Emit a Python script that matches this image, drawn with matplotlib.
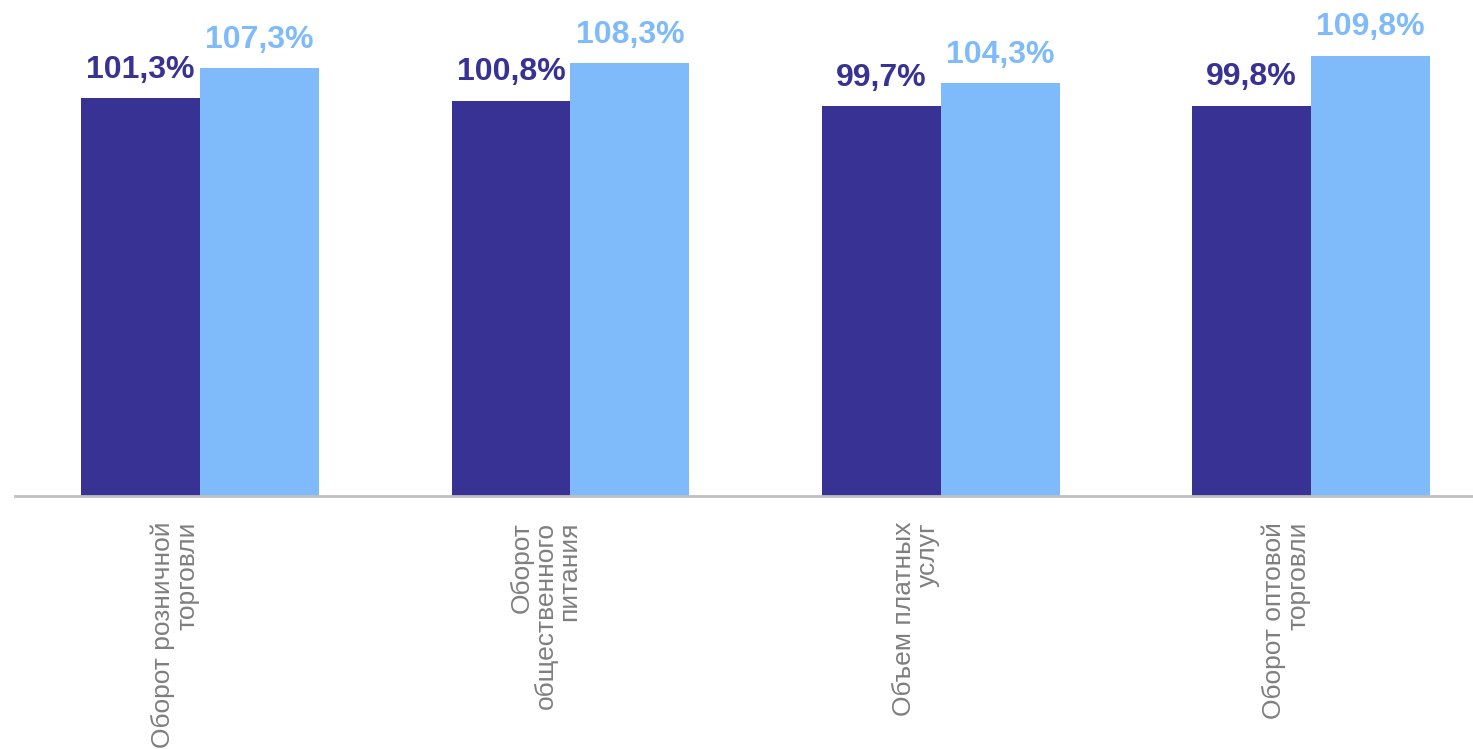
import numpy as np
import matplotlib
matplotlib.use('Agg')
import matplotlib.pyplot as plt

plt.rcParams['font.family'] = ['Liberation Sans', 'DejaVu Sans']

categories = ['Оборот розничной\nторговли',
              'Оборот\nобщественного\nпитания',
              'Объем платных\nуслуг',
              'Оборот оптовой\nторговли']
serie1 = [101.3, 100.8, 99.7, 99.8]
serie2 = [107.3, 108.3, 104.3, 109.8]
rotulos1 = ['101,3%', '100,8%', '99,7%', '99,8%']
rotulos2 = ['107,3%', '108,3%', '104,3%', '109,8%']

corEscura = '#373293'
corClara = '#7fbbfa'

fig = plt.figure(figsize=(14.73, 7.49), dpi=100)
ax = fig.add_axes([15/1473, (749-496)/749, (1473-15)/1473, 496/749])

x = np.arange(len(categories))
larg = 0.321
ax.bar(x - larg/2, serie1, larg, color=corEscura)
ax.bar(x + larg/2, serie2, larg, color=corClara)

for i in range(len(categories)):
    ax.annotate(rotulos1[i], (x[i] - larg/2, serie1[i]), xytext=(0, 14.5),
                textcoords='offset points', ha='center', va='baseline',
                fontsize=23, fontweight='bold', color=corEscura)
    ax.annotate(rotulos2[i], (x[i] + larg/2, serie2[i]), xytext=(0, 14.5),
                textcoords='offset points', ha='center', va='baseline',
                fontsize=23, fontweight='bold', color=corClara)
    # rotulo do eixo, rodado e um pouco deslocado p/ esquerda
    ax.annotate(categories[i], (x[i], 0), xycoords=('data', 'axes fraction'),
                xytext=(-18, -18.7), textcoords='offset points',
                rotation=90, ha='center', va='top', multialignment='right',
                fontsize=19, color='#7f7f7f', linespacing=1.0)

ax.set_xlim(-0.5, 3 + 162/370.5)
ax.set_ylim(21.7, 21.7 + 496/5)
ax.set_xticks([])
ax.set_yticks([])
for s in ['top', 'right', 'left']:
    ax.spines[s].set_visible(False)
ax.spines['bottom'].set_color('#bfbfbf')
ax.spines['bottom'].set_linewidth(2)

fig.savefig('out.png', dpi=100)
